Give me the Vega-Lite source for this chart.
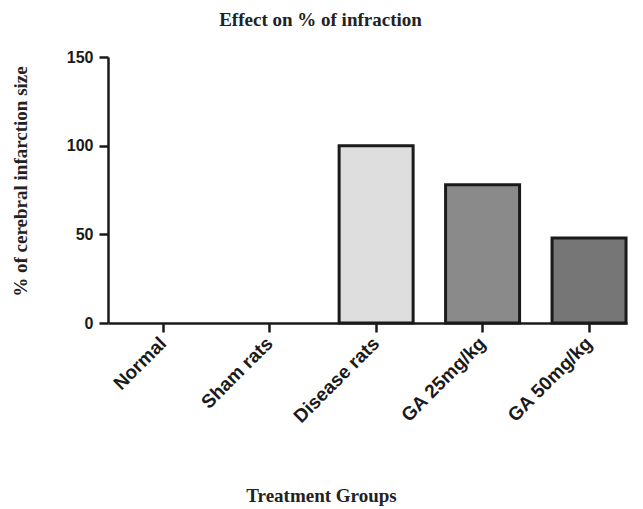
{
  "$schema": "https://vega.github.io/schema/vega-lite/v6.json",
  "width": 519,
  "height": 266,
  "autosize": {"type": "none"},
  "padding": {"left": 108, "top": 57, "right": 16, "bottom": 186},
  "background": "white",
  "title": {
    "text": "Effect on % of infraction",
    "font": "Liberation Serif",
    "fontSize": 19,
    "fontWeight": "bold",
    "color": "#222222",
    "anchor": "middle",
    "dx": -47,
    "offset": 19
  },
  "data": {
    "values": [
      {"group": "Normal", "value": 0},
      {"group": "Sham rats", "value": 0},
      {"group": "Disease rats", "value": 100},
      {"group": "GA 25mg/kg", "value": 78},
      {"group": "GA 50mg/kg", "value": 48}
    ]
  },
  "mark": {"type": "bar", "stroke": "#1a1a1a", "strokeWidth": 3},
  "encoding": {
    "x": {
      "field": "group",
      "type": "nominal",
      "sort": null,
      "scale": {"paddingInner": 0.305, "paddingOuter": 0.09, "align": 0.95},
      "axis": {
        "title": "Treatment Groups",
        "titleFont": "Liberation Serif",
        "titleFontSize": 19,
        "titleFontWeight": "bold",
        "titleColor": "#222222",
        "titleX": 213,
        "titleY": 178,
        "titleAlign": "center",
        "titleBaseline": "alphabetic",
        "labelAngle": -45,
        "labelAlign": "right",
        "labelBaseline": "middle",
        "labelFont": "Liberation Sans",
        "labelFontSize": 19,
        "labelFontWeight": "bold",
        "labelColor": "#1a1a1a",
        "labelPadding": 8,
        "domainColor": "#1a1a1a",
        "domainWidth": 2.5,
        "tickColor": "#1a1a1a",
        "tickWidth": 2.5,
        "tickSize": 9
      }
    },
    "y": {
      "field": "value",
      "type": "quantitative",
      "scale": {"domain": [0, 150], "nice": false},
      "axis": {
        "values": [0, 50, 100, 150],
        "grid": false,
        "title": "% of cerebral infarction size",
        "titleFont": "Liberation Serif",
        "titleFontSize": 19,
        "titleFontWeight": "bold",
        "titleColor": "#222222",
        "titleAngle": -90,
        "titleX": -88,
        "titleY": 124,
        "titleAlign": "center",
        "titleBaseline": "middle",
        "labelFont": "Liberation Sans",
        "labelFontSize": 16,
        "labelFontWeight": "bold",
        "labelColor": "#1a1a1a",
        "labelPadding": 6,
        "domainColor": "#1a1a1a",
        "domainWidth": 2.5,
        "tickColor": "#1a1a1a",
        "tickWidth": 2.5,
        "tickSize": 9
      }
    },
    "color": {
      "field": "group",
      "type": "nominal",
      "sort": null,
      "scale": {
        "domain": ["Normal", "Sham rats", "Disease rats", "GA 25mg/kg", "GA 50mg/kg"],
        "range": ["#ffffff", "#ffffff", "#dedede", "#8a8a8a", "#767676"]
      },
      "legend": null
    },
    "strokeOpacity": {
      "condition": {"test": "datum.value == 0", "value": 0},
      "value": 1
    }
  },
  "config": {"view": {"stroke": null}}
}
